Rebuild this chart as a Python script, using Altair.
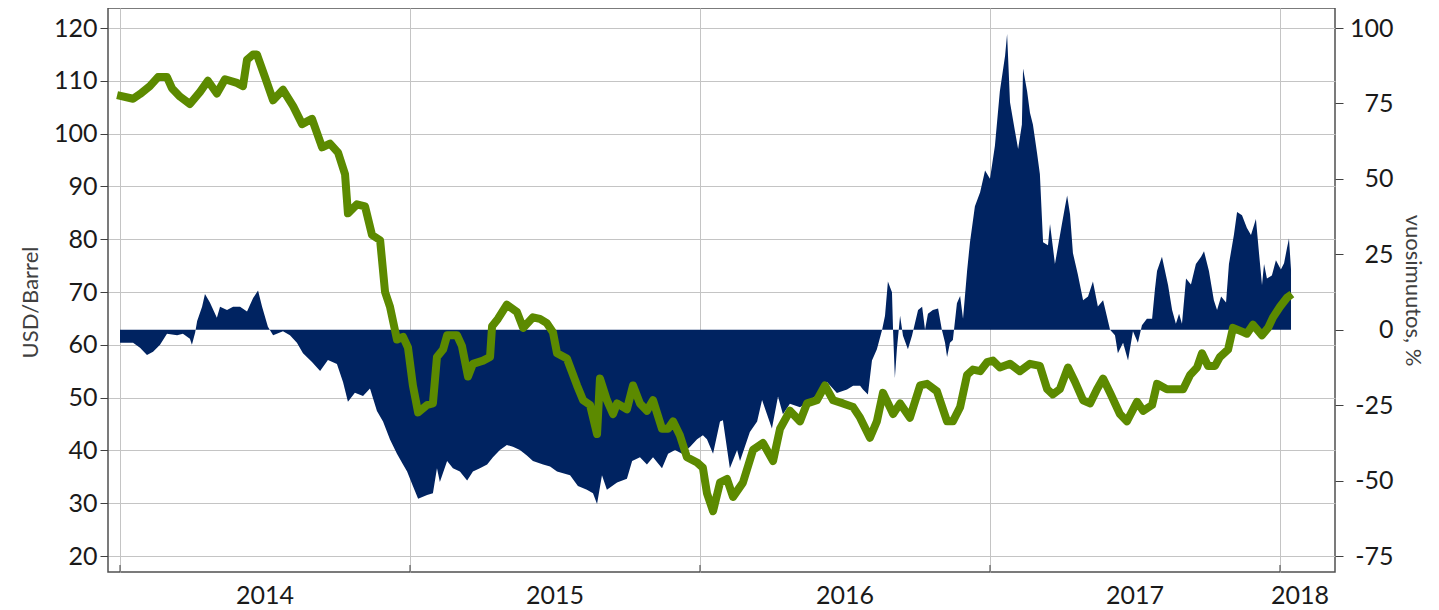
import altair as alt
import pandas as pd

# ---------------- data ----------------
# time as decimal year
price_t = [2013.990, 2014.045, 2014.069, 2014.103, 2014.131, 2014.162, 2014.179, 2014.207, 2014.241, 2014.276,
           2014.303, 2014.334, 2014.362, 2014.403, 2014.424, 2014.438, 2014.459, 2014.472, 2014.500, 2014.528,
           2014.562, 2014.597, 2014.628, 2014.662, 2014.697, 2014.724, 2014.752, 2014.776, 2014.786, 2014.817,
           2014.845, 2014.869, 2014.897, 2014.914, 2014.931, 2014.955, 2014.976, 2014.993, 2015.010, 2015.028,
           2015.059, 2015.079, 2015.093, 2015.114, 2015.128, 2015.162, 2015.179, 2015.200, 2015.217, 2015.252,
           2015.276, 2015.283, 2015.303, 2015.334, 2015.369, 2015.390, 2015.424, 2015.448, 2015.472, 2015.493,
           2015.507, 2015.541, 2015.576, 2015.597, 2015.621, 2015.645, 2015.655, 2015.679, 2015.700, 2015.714,
           2015.748, 2015.769, 2015.793, 2015.817, 2015.838, 2015.869, 2015.890, 2015.907, 2015.931, 2015.955,
           2015.990, 2016.010, 2016.024, 2016.045, 2016.069, 2016.093, 2016.114, 2016.148, 2016.183, 2016.217,
           2016.252, 2016.276, 2016.310, 2016.345, 2016.369, 2016.403, 2016.431, 2016.459, 2016.493, 2016.528,
           2016.552, 2016.586, 2016.610, 2016.631, 2016.666, 2016.690, 2016.724, 2016.759, 2016.783, 2016.817,
           2016.852, 2016.872, 2016.897, 2016.921, 2016.941, 2016.966, 2016.990, 2017.010, 2017.034, 2017.069,
           2017.103, 2017.138, 2017.172, 2017.197, 2017.217, 2017.241, 2017.269, 2017.293, 2017.321, 2017.345,
           2017.369, 2017.390, 2017.414, 2017.448, 2017.472, 2017.507, 2017.528, 2017.559, 2017.576, 2017.610,
           2017.666, 2017.690, 2017.714, 2017.731, 2017.752, 2017.776, 2017.793, 2017.821, 2017.838, 2017.869,
           2017.886, 2017.907, 2017.938, 2017.959, 2017.976, 2018.000, 2018.024, 2018.041]
price_usd = [107.3, 106.6, 107.5, 109.0, 110.7, 110.7, 108.6, 107.0, 105.6, 107.9,
             110.0, 107.6, 110.3, 109.6, 109.0, 114.0, 115.0, 115.0, 110.7, 106.3,
             108.3, 105.2, 101.8, 102.8, 97.4, 98.1, 96.4, 92.3, 84.9, 86.6,
             86.2, 80.8, 79.8, 70.0, 67.2, 61.0, 61.5, 59.5, 52.3, 47.2,
             48.6, 48.9, 57.7, 59.1, 61.8, 61.8, 59.8, 54.0, 56.4, 57.0,
             57.7, 63.5, 64.9, 67.6, 66.2, 63.2, 65.2, 64.9, 64.1, 62.4,
             58.4, 57.4, 52.3, 49.5, 48.6, 43.1, 53.6, 49.5, 46.9, 48.9,
             47.8, 52.3, 48.9, 47.5, 49.5, 44.1, 44.1, 45.5, 42.8, 38.7,
             37.7, 36.7, 31.9, 28.5, 33.9, 34.6, 31.2, 33.9, 40.1, 41.4,
             38.0, 44.1, 47.5, 45.5, 48.9, 49.5, 52.3, 49.5, 48.9, 48.2,
             46.2, 42.4, 45.5, 50.9, 46.9, 48.9, 46.2, 52.3, 52.6, 51.2,
             45.5, 45.5, 48.2, 54.3, 55.3, 55.0, 56.7, 57.0, 55.7, 56.4,
             55.0, 56.4, 56.0, 51.6, 50.6, 51.6, 55.7, 53.0, 49.5, 48.9,
             51.6, 53.6, 50.9, 46.9, 45.5, 49.2, 47.5, 48.6, 52.6, 51.6,
             51.6, 54.3, 55.7, 58.4, 56.0, 56.0, 57.7, 59.1, 63.2, 62.5,
             62.1, 63.8, 61.8, 63.2, 65.2, 67.2, 68.9, 69.6]

chg_t = [2014.000, 2014.034, 2014.045, 2014.069, 2014.093, 2014.114, 2014.138, 2014.162, 2014.197, 2014.217,
         2014.241, 2014.248, 2014.259, 2014.266, 2014.283, 2014.293, 2014.310, 2014.334, 2014.345, 2014.369,
         2014.390, 2014.414, 2014.438, 2014.459, 2014.476, 2014.490, 2014.510, 2014.528, 2014.562, 2014.586,
         2014.610, 2014.631, 2014.662, 2014.690, 2014.717, 2014.748, 2014.769, 2014.786, 2014.810, 2014.838,
         2014.862, 2014.886, 2014.907, 2014.931, 2014.955, 2014.976, 2014.990, 2015.010, 2015.028, 2015.059,
         2015.079, 2015.093, 2015.103, 2015.128, 2015.148, 2015.172, 2015.197, 2015.217, 2015.241, 2015.266,
         2015.286, 2015.310, 2015.334, 2015.355, 2015.379, 2015.403, 2015.424, 2015.459, 2015.483, 2015.507,
         2015.552, 2015.579, 2015.610, 2015.631, 2015.645, 2015.662, 2015.679, 2015.714, 2015.748, 2015.766,
         2015.793, 2015.817, 2015.838, 2015.869, 2015.890, 2015.914, 2015.938, 2015.966, 2015.990, 2016.010,
         2016.024, 2016.045, 2016.069, 2016.079, 2016.103, 2016.128, 2016.138, 2016.172, 2016.197, 2016.214,
         2016.231, 2016.248, 2016.269, 2016.286, 2016.310, 2016.345, 2016.379, 2016.414, 2016.438, 2016.472,
         2016.507, 2016.528, 2016.552, 2016.562, 2016.579, 2016.593, 2016.610, 2016.628, 2016.638, 2016.648,
         2016.662, 2016.666, 2016.672, 2016.679, 2016.690, 2016.700, 2016.717, 2016.731, 2016.752, 2016.766,
         2016.776, 2016.786, 2016.803, 2016.821, 2016.834, 2016.845, 2016.852, 2016.862, 2016.872, 2016.886,
         2016.897, 2016.907, 2016.921, 2016.931, 2016.948, 2016.966, 2016.983, 2017.000, 2017.017, 2017.034,
         2017.052, 2017.059, 2017.069, 2017.086, 2017.097, 2017.110, 2017.114, 2017.128, 2017.138, 2017.148,
         2017.162, 2017.172, 2017.183, 2017.200, 2017.207, 2017.224, 2017.248, 2017.259, 2017.266, 2017.276,
         2017.286, 2017.303, 2017.321, 2017.338, 2017.355, 2017.372, 2017.390, 2017.414, 2017.431, 2017.441,
         2017.459, 2017.476, 2017.493, 2017.510, 2017.524, 2017.541, 2017.559, 2017.569, 2017.576, 2017.593,
         2017.614, 2017.628, 2017.641, 2017.652, 2017.662, 2017.676, 2017.693, 2017.710, 2017.728, 2017.738,
         2017.755, 2017.772, 2017.783, 2017.797, 2017.814, 2017.824, 2017.841, 2017.852, 2017.869, 2017.886,
         2017.900, 2017.917, 2017.928, 2017.938, 2017.945, 2017.955, 2017.972, 2017.986, 2018.003, 2018.014,
         2018.024, 2018.031, 2018.038]
chg_pct = [-4.3, -4.3, -4.3, -6.0, -8.4, -7.3, -5.0, -1.3, -1.8, -1.3,
           -3.0, -5.0, -1.0, 2.9, 7.6, 11.8, 9.0, 4.0, 7.6, 6.5,
           7.6, 7.6, 6.0, 10.5, 13.0, 7.6, 1.0, -1.8, -0.5, -1.8,
           -4.3, -7.8, -10.7, -13.7, -10.0, -11.4, -17.3, -23.9, -20.9, -22.0,
           -19.5, -26.9, -30.4, -36.4, -41.1, -44.7, -47.0, -51.8, -56.0, -54.8,
           -54.2, -45.9, -50.5, -43.5, -45.9, -47.0, -50.0, -47.0, -45.9, -44.7,
           -42.3, -39.9, -38.2, -38.8, -39.9, -41.7, -43.5, -44.7, -45.3, -47.0,
           -48.2, -51.8, -53.0, -54.2, -57.8, -48.2, -53.0, -50.6, -49.4, -43.5,
           -42.3, -44.7, -42.3, -45.9, -41.1, -39.9, -41.1, -38.8, -36.3, -35.0,
           -36.3, -41.1, -30.4, -30.0, -45.9, -39.9, -43.5, -33.9, -30.4, -23.3,
           -28.0, -32.7, -22.1, -28.0, -24.5, -25.7, -23.3, -21.0, -17.3, -21.0,
           -19.8, -18.6, -18.6, -19.8, -21.5, -10.2, -6.5, 0.0, 4.6, 16.0,
           12.4, -1.0, -16.0, -6.4, 4.6, -2.0, -6.5, -2.0, 6.5, 7.6,
           0.0, 5.3, 6.5, 7.0, 0.0, -4.3, -9.0, -4.3, -3.4, 8.8,
           11.2, 3.6, 19.5, 29.0, 40.9, 45.6, 52.8, 50.0, 61.0, 79.0,
           90.8, 98.0, 75.4, 65.9, 59.9, 68.0, 86.6, 79.0, 71.8, 68.0,
           58.7, 51.6, 29.0, 28.0, 35.0, 21.8, 35.0, 40.9, 44.5, 38.3,
           25.4, 18.3, 9.8, 11.0, 16.0, 7.7, 9.8, 0.0, -1.8, -7.8,
           -4.3, -10.2, -0.5, -4.3, 1.5, 3.6, 3.6, 13.6, 19.5, 24.2,
           14.8, 6.5, 2.0, 5.3, 2.0, 17.0, 15.0, 21.8, 24.2, 26.0,
           19.5, 9.8, 6.5, 11.0, 9.0, 21.8, 31.4, 39.0, 37.9, 33.7,
           31.4, 36.7, 25.0, 14.8, 21.8, 17.0, 18.0, 23.0, 20.0, 22.0,
           27.0, 30.2, 20.0]

year_ticks = [2014, 2015, 2016, 2017, 2018]
year_labels = ["2014", "2015", "2016", "2017", "2018"]
year_label_pos = [2014.5, 2015.5, 2016.5, 2017.5, 2018.069]
left_ticks = [20, 30, 40, 50, 60, 70, 80, 90, 100, 110, 120]
right_ticks = [-75, -50, -25, 0, 25, 50, 75, 100]

# ---------------- styling ----------------
FONT = "Lato"
NAVY = "#002361"
GREEN = "#5c8a00"
GRID = "#c4c4c4"
TXT = "#1a1a1a"
W, H = 1227, 564
X_DOMAIN = [2013.9586, 2018.1897]
L_DOMAIN = [16.97, 123.79]
R_DOMAIN = [-80.30, 106.63]

df_price = pd.DataFrame({"t": price_t, "usd": price_usd})
df_chg = pd.DataFrame({"t": chg_t, "pct": chg_pct})
df_ticks = pd.DataFrame({"t": year_ticks})
df_labels = pd.DataFrame({"t": year_label_pos, "label": year_labels})

x_scale = alt.Scale(domain=X_DOMAIN, nice=False, zero=False)
x_axis = alt.Axis(values=year_ticks, labels=False, ticks=False, domain=False,
                  grid=True, gridColor=GRID, gridWidth=1, title=None)

area = alt.Chart(df_chg).mark_area(color=NAVY, interpolate="linear").encode(
    x=alt.X("t:Q", scale=x_scale, axis=x_axis),
    y=alt.Y("pct:Q", scale=alt.Scale(domain=R_DOMAIN, nice=False, zero=False),
            axis=alt.Axis(orient="right", values=right_ticks, grid=False, domain=False,
                          tickSize=8, tickColor="#404040", labelAlign="right", labelPadding=50,
                          labelFont=FONT, labelFontSize=25, labelColor=TXT,
                          labelExpr="datum.value + ''",
                          title="vuosimuutos, %", titleFont=FONT, titleFontSize=22,
                          titleFontWeight="normal", titleColor="#404040",
                          titleAngle=90, titleX=77, titleY=282, titleAlign="center",
                          titleBaseline="middle")),
    y2=alt.datum(0),
)

line = alt.Chart(df_price).mark_line(color=GREEN, strokeWidth=8, strokeJoin="round").encode(
    x=alt.X("t:Q", scale=x_scale, axis=x_axis),
    y=alt.Y("usd:Q", scale=alt.Scale(domain=L_DOMAIN, nice=False, zero=False),
            axis=alt.Axis(orient="left", values=left_ticks, grid=True, gridColor=GRID, gridWidth=1,
                          domain=False, tickSize=8, tickColor="#404040", labelPadding=3,
                          labelFont=FONT, labelFontSize=25, labelColor=TXT,
                          title="USD/Barrel", titleFont=FONT, titleFontSize=22,
                          titleFontWeight="normal", titleColor="#404040",
                          titleAngle=270, titleX=-78, titleY=294, titleAlign="center",
                          titleBaseline="middle")),
)

inner_ticks = alt.Chart(df_ticks).mark_rule(color="#404040", strokeWidth=1).encode(
    x=alt.X("t:Q", scale=x_scale, axis=x_axis),
    y=alt.value(H - 7),
    y2=alt.value(H),
)

labels = alt.Chart(df_labels).mark_text(font=FONT, fontSize=25, color=TXT, baseline="middle").encode(
    x=alt.X("t:Q", scale=x_scale, axis=x_axis),
    y=alt.value(H + 24),
    text="label:N",
)

chart = alt.layer(area, line, inner_ticks, labels).resolve_scale(y="independent").properties(
    width=W, height=H,
    autosize=alt.AutoSizeParams(type="none"),
    padding={"left": 100, "top": 0, "right": 96, "bottom": 38},
).configure_view(stroke="#505050", strokeWidth=1.5)

chart.save("out.html", embed_options={"renderer": "svg", "actions": False})
